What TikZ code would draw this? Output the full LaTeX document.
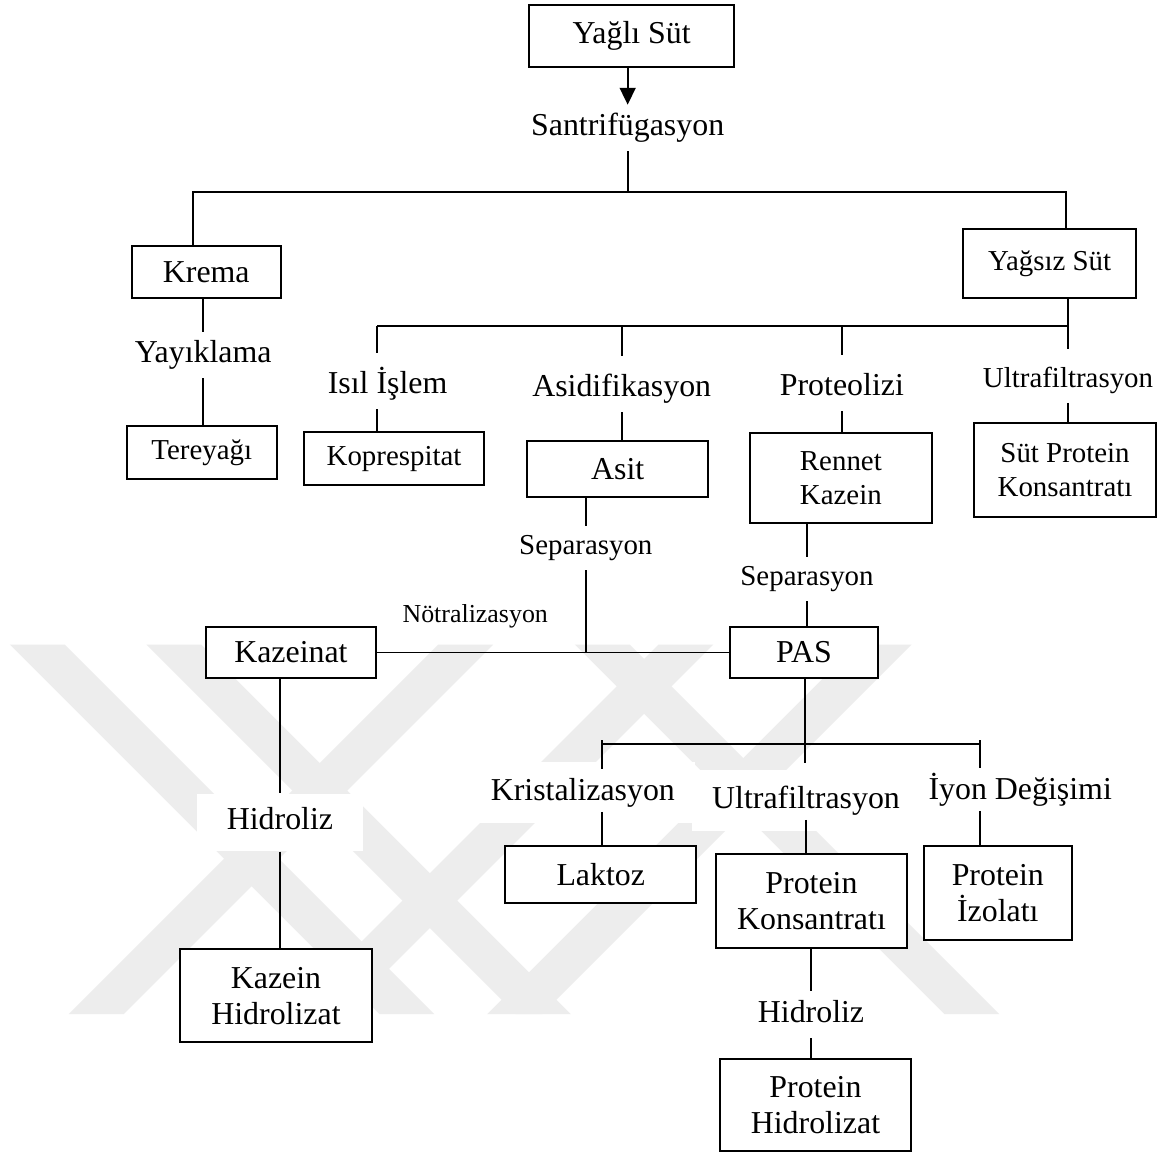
\documentclass[tikz,border=0pt]{standalone}
\usepackage{fontspec}
\setmainfont{Liberation Serif}
\usetikzlibrary{arrows.meta}
\begin{document}
\begin{tikzpicture}[
        x=0.5pt, y=-0.5pt,
        line width=0.9pt,
        big/.style={font=\fontsize{16}{18}\selectfont},
        small/.style={font=\fontsize{14.5}{17}\selectfont},
        box/.style={rectangle, draw, line width=1pt, fill=white, align=center, inner sep=0pt},
        lbl/.style={fill=white, inner xsep=10pt, inner ysep=4pt, anchor=base,
                    text height=11pt, text depth=3.5pt, big},
        lbls/.style={lbl, small, text height=10pt, text depth=3.2pt},
        widebg/.style={inner ysep=8pt},
        wband/.style={fill=black!7},
        dropline/.style={shorten >=5pt},
        arr/.style={-{Triangle[length=8.5pt,width=8pt]}}
    ]
    \fill[white] (0,0) rectangle (1173,1160);
    % watermark
    \foreach \x in {10,147,577}
        \fill[wband] (\x,647) -- ++(55,0) -- ++(371,371) -- ++(-55,0) -- cycle;
    \foreach \x in {440,661,860}
        \fill[wband] (\x,647) -- ++(55,0) -- ++(-371,371) -- ++(-55,0) -- cycle;

    % top
    \node[box, big, minimum width=103pt, minimum height=31pt] (ys) at (634,36) {Yağlı Süt};
    \node[lbl] (santri) at (630,136) {Santrifügasyon};
    \node[box, big, minimum width=75pt, minimum height=26pt] (krema) at (207,273) {Krema};
    \node[box, small, minimum width=86.5pt, minimum height=34.5pt] (yagsiz) at (1053.5,264.5) {Yağsız Süt};

    % cream branch
    \node[lbl] (yayik) at (204,364) {Yayıklama};
    \node[box, small, minimum width=75.5pt, minimum height=26.5pt] (tereyagi) at (202.5,454.5) {Tereyağı};

    % skim milk branches
    \node[lbl] (isil) at (389,395) {Isıl İşlem};
    \node[box, small, minimum width=90.5pt, minimum height=26.5pt] (kopres) at (395.5,460.5) {Koprespitat};
    \node[lbl] (asidif) at (624,398) {Asidifikasyon};
    \node[box, big, minimum width=91pt, minimum height=28pt] (asit) at (620,471) {Asit};
    \node[lbl] (proteo) at (845,397) {Proteolizi};
    \node[box, small, minimum width=91.5pt, minimum height=45pt] (rennet) at (844,480) {Rennet\\Kazein};
    \node[lbls] (ultraA) at (1072,389) {Ultrafiltrasyon};
    \node[box, small, minimum width=91pt, minimum height=47pt] (spk) at (1069,472) {Süt Protein\\Konsantratı};

    \node[lbls] (sepA) at (588,557) {Separasyon};
    \node[lbls] (sepB) at (810,588) {Separasyon};
    \node[font=\fontsize{13}{15}\selectfont, anchor=base] (notr) at (477,625) {Nötralizasyon};
    \node[box, big, minimum width=85.5pt, minimum height=26pt] (kazeinat) at (292,655) {Kazeinat};
    \node[box, big, minimum width=74pt, minimum height=26pt] (pas) at (807,655) {PAS};

    % PAS branches
    \node[lbl, widebg] (krist) at (585,803) {Kristalizasyon};
    \node[lbl, widebg] (ultraB) at (809,811) {Ultrafiltrasyon};
    \node[lbl, widebg] (iyon) at (1024,802) {İyon Değişimi};
    \node[box, big, minimum width=96pt, minimum height=28.5pt] (laktoz) at (603,877.5) {Laktoz};
    \node[box, big, minimum width=95.5pt, minimum height=47.5pt] (pkons) at (814.5,904.5) {Protein\\Konsantratı};
    \node[box, big, minimum width=74.5pt, minimum height=47pt] (pizol) at (1001.5,896) {Protein\\İzolatı};
    \node[lbl] (hidroB) at (814,1026) {Hidroliz};
    \node[box, big, minimum width=95.5pt, minimum height=46pt] (phidro) at (818.5,1109) {Protein\\Hidrolizat};

    % caseinate branch
    \node[lbl, inner xsep=15pt, inner ysep=7pt] (hidroA) at (281,833) {Hidroliz};
    \node[box, big, minimum width=96pt, minimum height=46.5pt] (khidro) at (277,999.5) {Kazein\\Hidrolizat};

    % junctions
    \coordinate (jS) at (630,193);
    \coordinate (jY) at (1072,327);
    \coordinate (jI) at (378,327);
    \coordinate (jA) at (sepA |- kazeinat.east);
    \coordinate (jK) at (604,747);
    \coordinate (jP) at (808,747);
    \coordinate (jD) at (984,747);

    \draw[arr] (santri |- ys.south) -- (santri);
    \draw (santri) -- (jS);
    \draw ([xshift=-6.5pt]krema.north) |- (jS) -| ([xshift=8.25pt]yagsiz.north);

    \draw (yayik |- krema.south) -- (yayik) -- (yayik |- tereyagi.north);

    \draw ([xshift=9.25pt]yagsiz.south) -- (jY) -- (jI);
    \draw[dropline] (jI) -- (jI |- isil.north);
    \draw[dropline] (jI -| asidif) -- (asidif);
    \draw[dropline] (jI -| proteo) -- (proteo);
    \draw[dropline] (jY) -- (ultraA);
    \draw (jI |- isil.south) -- (jI |- kopres.north);
    \draw (asidif) -- (asidif |- asit.north);
    \draw (proteo) -- (proteo |- rennet.north);
    \draw (ultraA) -- (ultraA |- spk.north);

    \draw (sepA |- asit.south) -- (sepA) -- (jA);
    \draw (kazeinat) -- (pas);
    \draw (sepB |- rennet.south) -- (sepB) -- (sepB |- pas.north);

    \draw[shorten >=3pt] (pas.south -| jP) -- (jP |- ultraB.north);
    \draw (jK) -- (jD);
    \draw[shorten >=-4pt] (jK) ++(0,-4) -- (jK |- krist.north);
    \draw[shorten >=-4pt] (jD) ++(0,-4) -- (jD |- iyon.north);
    \draw[shorten <=-6pt] (jK |- krist.south) -- (jK |- laktoz.north);
    \draw[shorten <=-6pt] (ultraB) -- (ultraB |- pkons.north);
    \draw[shorten <=-6pt] (jD |- iyon.south) -- (jD |- pizol.north);
    \draw (hidroB |- pkons.south) -- (hidroB) -- (hidroB |- phidro.north);

    \draw (hidroA |- kazeinat.south) -- (hidroA) -- (hidroA |- khidro.north);
\end{tikzpicture}
\end{document}
